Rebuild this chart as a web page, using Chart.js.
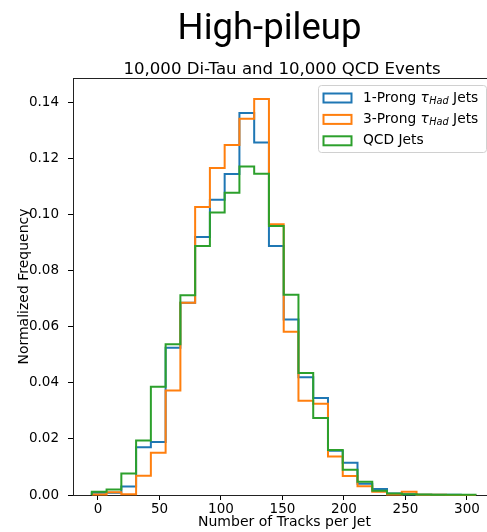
<!DOCTYPE html>
<html>
<head>
<meta charset="utf-8">
<script src="https://cdn.jsdelivr.net/npm/chart.js@4.4.0/dist/chart.umd.min.js"></script>
<style>
  html, body { margin: 0; padding: 0; background: #fff; }
  #wrap { width: 487px; height: 532px; overflow: hidden; position: relative; }
  canvas { display: block; }
</style>
</head>
<body>
<div id="wrap"><canvas id="grafico" width="496" height="532"></canvas></div>
<script>
// Bordes de los bins (número de trazas por jet)
const binEdges = [-5, 7, 19, 31, 43, 55, 67, 79, 91, 103, 115, 127, 139, 151, 163, 175, 187, 199, 211, 223, 235, 247, 259, 271, 283, 295, 307];

// Frecuencia normalizada por bin
const oneProng = [0.0008, 0.0008, 0.0030, 0.0170, 0.0189, 0.0525, 0.0685, 0.0919, 0.1052, 0.1144, 0.1361, 0.1256, 0.0887, 0.0625, 0.0420, 0.0346, 0.0158, 0.0115, 0.0040, 0.0021, 0.0005, 0.0003, 0.0001, 0.0001, 0.0001, 0.0000];
const threeProng = [0.0002, 0.0010, 0.0003, 0.0069, 0.0151, 0.0372, 0.0685, 0.1026, 0.1165, 0.1247, 0.1341, 0.1411, 0.0965, 0.0582, 0.0336, 0.0325, 0.0137, 0.0068, 0.0031, 0.0012, 0.0002, 0.0012, 0.0001, 0.0001, 0.0000, 0.0000];
const qcdJets = [0.0012, 0.0020, 0.0077, 0.0194, 0.0386, 0.0537, 0.0712, 0.0887, 0.1007, 0.1077, 0.1171, 0.1145, 0.0959, 0.0714, 0.0435, 0.0274, 0.0160, 0.0090, 0.0047, 0.0015, 0.0005, 0.0003, 0.0002, 0.0001, 0.0001, 0.0001];

// Ticks de los ejes
const xTicks = [0, 50, 100, 150, 200, 250, 300];
const yTicks = [0.00, 0.02, 0.04, 0.06, 0.08, 0.10, 0.12, 0.14];

const BLUE = '#1f77b4';
const ORANGE = '#ff7f0e';
const GREEN = '#2ca02c';
const FONT = '"DejaVu Sans", sans-serif';

// Convierte bins en puntos de un histograma tipo "step"
function stepPoints(vals) {
  const pts = [{ x: binEdges[0], y: 0 }];
  vals.forEach((v, i) => pts.push({ x: binEdges[i], y: v }));
  pts.push({ x: binEdges[binEdges.length - 1], y: 0 });
  return pts;
}

function serie(label, vals, color, order) {
  return {
    label: label,
    data: stepPoints(vals),
    borderColor: color,
    borderWidth: 2,
    stepped: 'before',
    pointRadius: 0,
    fill: false,
    clip: false,
    order: order
  };
}

// Títulos, borde superior y leyenda dibujados a mano
const extras = {
  id: 'extras',
  afterDraw(chart) {
    const c = chart.ctx;
    const a = chart.chartArea;
    c.save();
    // borde superior
    c.strokeStyle = '#222';
    c.lineWidth = 1;
    c.beginPath();
    c.moveTo(a.left, a.top + 0.5);
    c.lineTo(a.right, a.top + 0.5);
    c.stroke();

    // títulos
    c.fillStyle = '#000';
    c.textAlign = 'center';
    c.textBaseline = 'alphabetic';
    c.font = '36.5px Roboto, sans-serif';
    c.fillText('High-pileup', 269.5, 38.5);
    c.font = '16.6px ' + FONT;
    c.fillText('10,000 Di-Tau and 10,000 QCD Events', 282, 74.3);

    // leyenda
    const bx = 318.5, by = 85.5, bw = 168, bh = 67;
    c.fillStyle = 'rgba(255,255,255,0.8)';
    c.strokeStyle = '#d0d0d0';
    c.beginPath();
    c.roundRect(bx, by, bw, bh, 3);
    c.fill();
    c.stroke();

    const rows = [
      { color: BLUE, pre: '1-Prong ', tau: true },
      { color: ORANGE, pre: '3-Prong ', tau: true },
      { color: GREEN, pre: 'QCD Jets', tau: false }
    ];
    rows.forEach((r, i) => {
      const cy = 98 + i * 21.4;
      c.strokeStyle = r.color;
      c.lineWidth = 2;
      c.strokeRect(323.5, cy - 4.5, 28, 9);
      c.fillStyle = '#000';
      c.textAlign = 'left';
      c.textBaseline = 'middle';
      let x = 363;
      c.font = '13.8px ' + FONT;
      c.fillText(r.pre, x, cy);
      x += c.measureText(r.pre).width;
      if (r.tau) {
        c.font = 'italic 13.8px ' + FONT;
        c.fillText('τ', x, cy);
        x += c.measureText('τ').width + 0.5;
        c.font = 'italic 9.7px ' + FONT;
        c.fillText('Had', x, cy + 3);
        x += c.measureText('Had').width;
        c.font = '13.8px ' + FONT;
        c.fillText(' Jets', x, cy);
      }
    });
    c.restore();
  }
};

const ctx = document.getElementById('grafico').getContext('2d');
const grafico = new Chart(ctx, {
  type: 'line',
  data: {
    datasets: [
      serie('1-Prong τHad Jets', oneProng, BLUE, 2),
      serie('3-Prong τHad Jets', threeProng, ORANGE, 1),
      serie('QCD Jets', qcdJets, GREEN, 0)
    ]
  },
  options: {
    responsive: false,
    animation: false,
    devicePixelRatio: 1,
    layout: { padding: { top: 78, left: 0, right: 0, bottom: 0 } },
    plugins: {
      legend: { display: false },
      tooltip: { enabled: false }
    },
    scales: {
      x: {
        type: 'linear',
        min: -20.3,
        max: 323.6,
        afterFit: (s) => { s.height = 37; },
        afterBuildTicks: (s) => { s.ticks = xTicks.map(v => ({ value: v })); },
        grid: { drawOnChartArea: false, drawTicks: true, tickLength: 5, tickColor: '#000' },
        border: { display: true, color: '#222', width: 1 },
        ticks: { color: '#000', padding: 1, maxRotation: 0, font: { family: FONT, size: 13.5 } },
        title: {
          display: true,
          text: 'Number of Tracks per Jet',
          color: '#000',
          padding: { top: 0, bottom: 1 },
          font: { family: FONT, size: 14 }
        }
      },
      y: {
        type: 'linear',
        min: 0,
        max: 0.1486,
        afterFit: (s) => { s.width = 73; },
        afterBuildTicks: (s) => { s.ticks = yTicks.map(v => ({ value: v })); },
        grid: { drawOnChartArea: false, drawTicks: true, tickLength: 5, tickColor: '#000' },
        border: { display: true, color: '#222', width: 1 },
        ticks: {
          color: '#000',
          padding: 9,
          font: { family: FONT, size: 13.5 },
          callback: (v) => v.toFixed(2)
        },
        title: {
          display: true,
          text: 'Normalized Frequency',
          color: '#000',
          padding: { top: 16, bottom: 0 },
          font: { family: FONT, size: 14 }
        }
      }
    }
  },
  plugins: [extras]
});
</script>
</body>
</html>
